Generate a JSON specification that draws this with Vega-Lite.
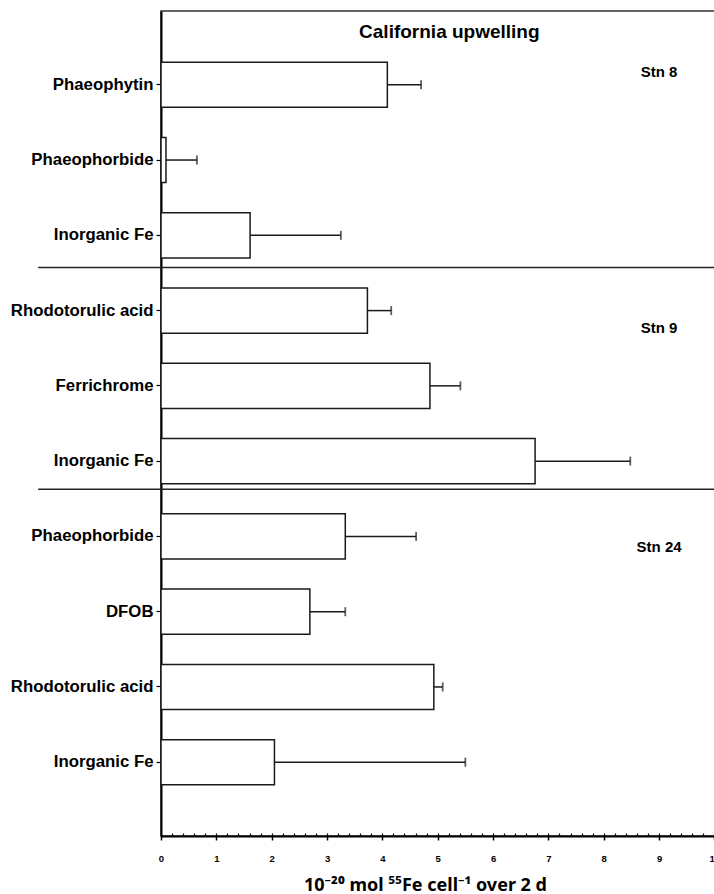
{
  "$schema": "https://vega.github.io/schema/vega-lite/v6.json",
  "autosize": {"type": "none"},
  "padding": {"left": 161, "top": 11, "right": 0, "bottom": 58},
  "width": 570,
  "height": 825,
  "background": "white",
  "config": {
    "font": "Liberation Sans",
    "view": {"stroke": "#333", "strokeWidth": 1.5},
    "axis": {"grid": false}
  },
  "datasets": {
    "bars": [
      {"key": "8|Phaeophytin", "uptake": 4.09, "upper": 4.70},
      {"key": "8|Phaeophorbide", "uptake": 0.09, "upper": 0.65},
      {"key": "8|Inorganic Fe", "uptake": 1.61, "upper": 3.25},
      {"key": "9|Rhodotorulic acid", "uptake": 3.73, "upper": 4.16},
      {"key": "9|Ferrichrome", "uptake": 4.86, "upper": 5.41},
      {"key": "9|Inorganic Fe", "uptake": 6.76, "upper": 8.48},
      {"key": "24|Phaeophorbide", "uptake": 3.33, "upper": 4.61},
      {"key": "24|DFOB", "uptake": 2.69, "upper": 3.33},
      {"key": "24|Rhodotorulic acid", "uptake": 4.93, "upper": 5.09},
      {"key": "24|Inorganic Fe", "uptake": 2.05, "upper": 5.50}
    ]
  },
  "layer": [
    {
      "data": {"name": "bars"},
      "mark": {"type": "bar", "fill": "white", "stroke": "#1a1a1a", "strokeWidth": 1.5},
      "encoding": {
        "y": {
          "field": "key",
          "type": "nominal",
          "scale": {
            "domain": ["8|Phaeophytin", "8|Phaeophorbide", "8|Inorganic Fe", "9|Rhodotorulic acid", "9|Ferrichrome", "9|Inorganic Fe", "24|Phaeophorbide", "24|DFOB", "24|Rhodotorulic acid", "24|Inorganic Fe"],
            "paddingInner": 0.4,
            "paddingOuter": 0.68
          },
          "axis": {
            "title": null,
            "labelExpr": "split(datum.label, '|')[1]",
            "labelFont": "Liberation Sans",
            "labelFontSize": 16.8,
            "labelFontWeight": "bold",
            "labelColor": "black",
            "labelPadding": 3,
            "labelLimit": 300,
            "tickSize": 5,
            "tickColor": "black",
            "tickWidth": 1.2,
            "domainColor": "black",
            "domainWidth": 2
          }
        },
        "x": {
          "field": "uptake",
          "type": "quantitative",
          "scale": {"domain": [0, 10.3], "nice": false, "zero": true},
          "axis": {
            "orient": "bottom",
            "values": [0, 1, 2, 3, 4, 5, 6, 7, 8, 9, 10],
            "tickSize": 4,
            "tickColor": "black",
            "tickWidth": 1.5,
            "domainColor": "black",
            "domainWidth": 2,
            "labelFontSize": 9.5,
            "labelFontWeight": "bold",
            "labelColor": "black",
            "labelPadding": 13,
            "labelFlush": false,
            "labelOverlap": false,
            "title": "10⁻²⁰ mol ⁵⁵Fe cell⁻¹ over 2 d",
            "titleFont": "Noto Sans",
            "titleFontSize": 18,
            "titleFontWeight": "bold",
            "titleColor": "black",
            "titleX": 264,
            "titleY": 54,
            "titleAlign": "center",
            "titleBaseline": "alphabetic",
            "encode": {
              "labels": {
                "update": {
                  "dy": {"signal": "indexof([3,4,5,6,7,9], datum.value) >= 0 ? -4 : 0"}
                }
              }
            }
          }
        }
      }
    },
    {
      "data": {"name": "bars"},
      "mark": {"type": "rule", "stroke": "#1a1a1a", "strokeWidth": 1.5},
      "encoding": {
        "y": {"field": "key", "type": "nominal"},
        "x": {
          "field": "uptake",
          "type": "quantitative",
          "axis": {
            "orient": "bottom",
            "values": [0, 0.2, 0.4, 0.6, 0.8, 1, 1.2, 1.4, 1.6, 1.8, 2, 2.2, 2.4, 2.6, 2.8, 3, 3.2, 3.4, 3.6, 3.8, 4, 4.2, 4.4, 4.6, 4.8, 5, 5.2, 5.4, 5.6, 5.8, 6, 6.2, 6.4, 6.6, 6.8, 7, 7.2, 7.4, 7.6, 7.8, 8, 8.2, 8.4, 8.6, 8.8, 9, 9.2, 9.4, 9.6, 9.8, 10, 10.2],
            "tickSize": -3,
            "tickColor": "black",
            "tickWidth": 1.2,
            "labels": false,
            "domain": false,
            "title": null
          }
        },
        "x2": {"field": "upper"}
      }
    },
    {
      "data": {"name": "bars"},
      "mark": {"type": "tick", "color": "#1a1a1a", "size": 9, "thickness": 1.8},
      "encoding": {
        "y": {"field": "key", "type": "nominal"},
        "x": {"field": "upper", "type": "quantitative", "axis": null}
      }
    },
    {
      "data": {"values": [{"key": "8|Inorganic Fe"}]},
      "mark": {"type": "rule", "clip": false, "stroke": "#222", "strokeWidth": 1.5},
      "encoding": {
        "y": {"field": "key", "type": "nominal", "bandPosition": 1.21},
        "x": {"datum": -2.22, "type": "quantitative", "axis": null},
        "x2": {"datum": 10.3}
      }
    },
    {
      "data": {"values": [{"key": "9|Inorganic Fe"}]},
      "mark": {"type": "rule", "clip": false, "stroke": "#222", "strokeWidth": 1.5},
      "encoding": {
        "y": {"field": "key", "type": "nominal", "bandPosition": 1.12},
        "x": {"datum": -2.22, "type": "quantitative", "axis": null},
        "x2": {"datum": 10.3}
      }
    },
    {
      "data": {"values": [{"key": "8|Phaeophytin", "label": "Stn 8"}]},
      "mark": {"type": "text", "fontSize": 15, "fontWeight": "bold", "align": "center", "baseline": "middle", "color": "black"},
      "encoding": {
        "y": {"field": "key", "type": "nominal", "bandPosition": 0.217},
        "x": {"datum": 9.0, "type": "quantitative", "axis": null},
        "text": {"field": "label"}
      }
    },
    {
      "data": {"values": [{"key": "9|Rhodotorulic acid", "label": "Stn 9"}]},
      "mark": {"type": "text", "fontSize": 15, "fontWeight": "bold", "align": "center", "baseline": "middle", "color": "black"},
      "encoding": {
        "y": {"field": "key", "type": "nominal", "bandPosition": 0.886},
        "x": {"datum": 9.0, "type": "quantitative", "axis": null},
        "text": {"field": "label"}
      }
    },
    {
      "data": {"values": [{"key": "24|Phaeophorbide", "label": "Stn 24"}]},
      "mark": {"type": "text", "fontSize": 15, "fontWeight": "bold", "align": "center", "baseline": "middle", "color": "black"},
      "encoding": {
        "y": {"field": "key", "type": "nominal", "bandPosition": 0.735},
        "x": {"datum": 9.0, "type": "quantitative", "axis": null},
        "text": {"field": "label"}
      }
    },
    {
      "data": {"values": [{"key": "8|Phaeophytin", "label": "California upwelling"}]},
      "mark": {"type": "text", "fontSize": 19, "fontWeight": "bold", "align": "center", "baseline": "alphabetic", "color": "black"},
      "encoding": {
        "y": {"field": "key", "type": "nominal", "bandPosition": -0.533},
        "x": {"datum": 5.21, "type": "quantitative", "axis": null},
        "text": {"field": "label"}
      }
    }
  ],
  "resolve": {"axis": {"x": "independent"}}
}
